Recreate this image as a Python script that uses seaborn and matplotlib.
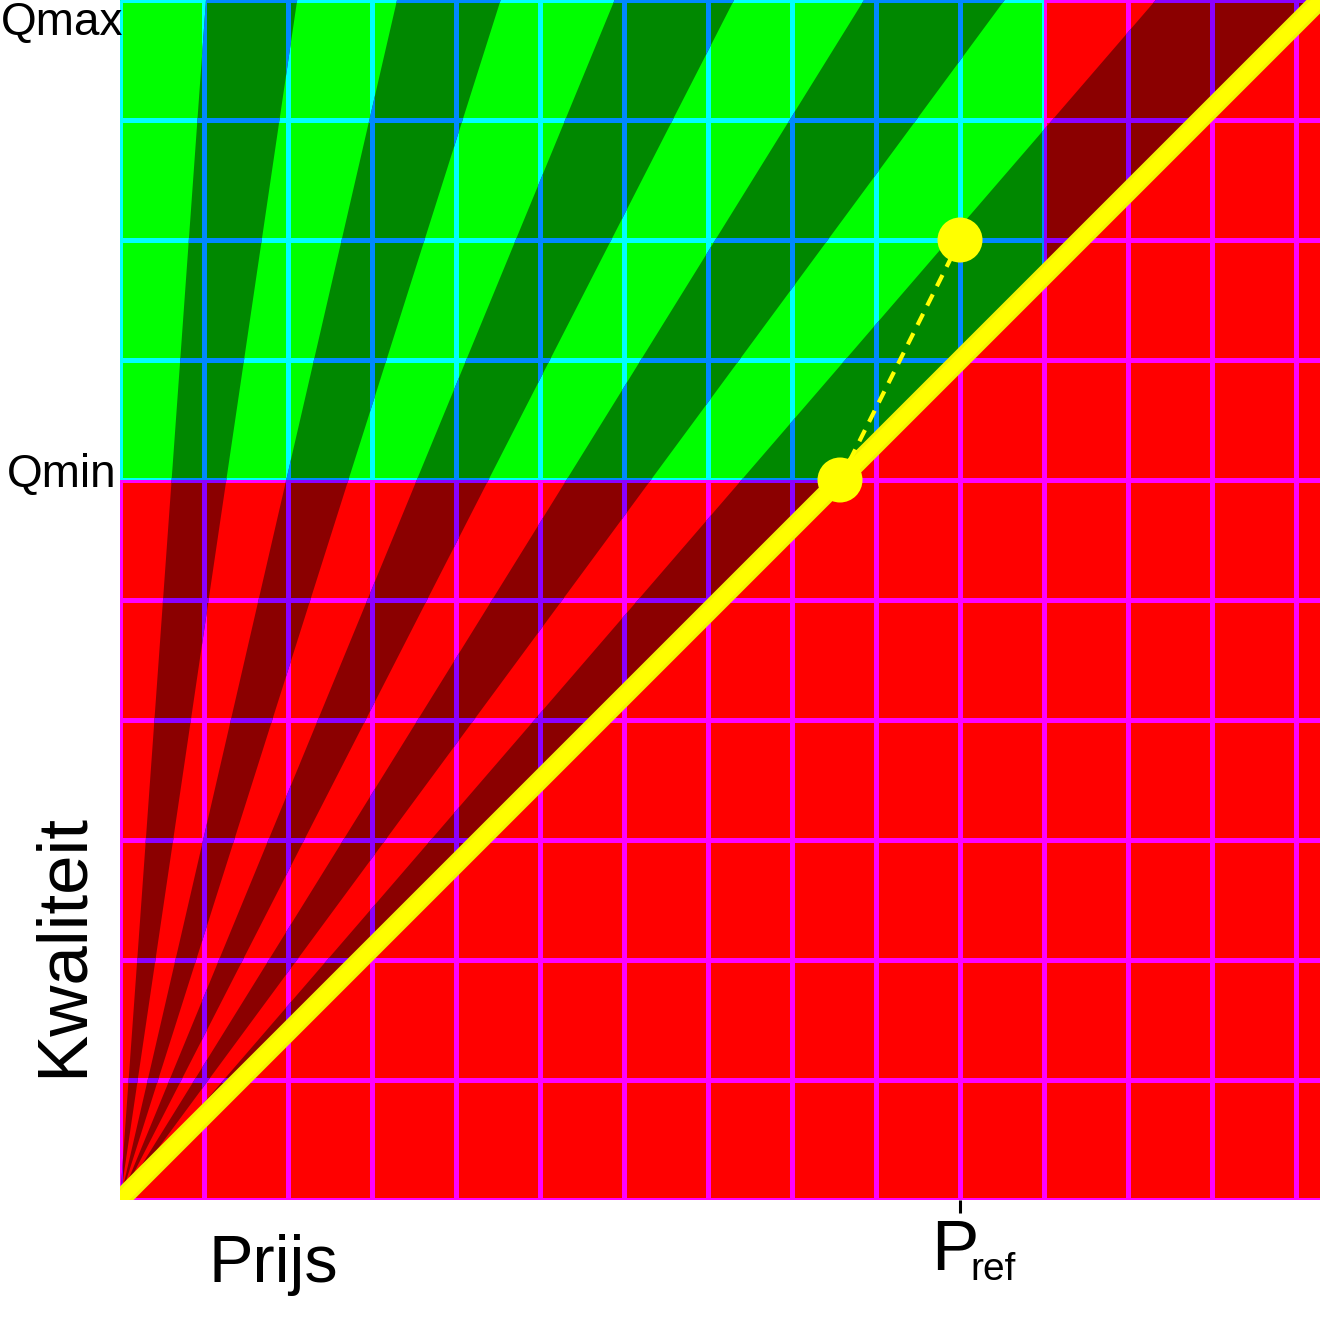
import numpy as np
import matplotlib
matplotlib.use("Agg")
import matplotlib.pyplot as plt
from matplotlib.patches import Polygon, PathPatch
from matplotlib.path import Path
from matplotlib.transforms import Bbox
import seaborn as sns

# fan of bands from the origin, edges in degrees from the price axis
# (dark band between edge 0-1, 2-3, 4-5, ...)
band_edges = [45.0, 49.2, 53.6, 58.2, 62.9, 67.6, 72.4, 77.0, 81.6, 85.9, 90.0]
q_min, q_max = 6.0, 10.0
p_ref = 7.0
p_green_max = 7.7
diag_x = [0, 10]
diag_y = [0, 10]
move_x = [6, 7]
move_y = [6, 8]
grid_x = np.arange(0, 10, 0.7)
grid_y = np.arange(0, 11, 1)

sns.set_style("white")
plt.rcParams["font.family"] = ["Liberation Sans", "DejaVu Sans"]
plt.rcParams["text.color"] = "black"

fig = plt.figure(figsize=(13.2, 13.2), dpi=100)
ax = fig.add_axes([120 / 1320, 120 / 1320, 1200 / 1320, 1200 / 1320])
ax.set_xlim(0, 10)
ax.set_ylim(0, 10)
ax.set_facecolor("#FF0000")
for s in ax.spines.values():
    s.set_visible(False)


def grid(color, z, clip=None):
    lines = [ax.vlines(grid_x, 0, 10, colors=color, lw=3.6, zorder=z),
             ax.hlines(grid_y, 0, 10, colors=color, lw=3.6, zorder=z)]
    if clip is not None:
        for lc in lines:
            lc.set_clip_path(clip)


def wedge(a1, a2, r=30):
    t1, t2 = np.radians(a1), np.radians(a2)
    return Path([(0, 0), (r * np.cos(t1), r * np.sin(t1)),
                 (r * np.cos(t2), r * np.sin(t2)), (0, 0)], closed=True)


dark_bands = list(zip(band_edges[0::2], band_edges[1::2]))

# red part
grid("#FF00FF", 1)
for a1, a2 in dark_bands:
    p = PathPatch(wedge(a1, a2), fc="#8B0000", ec="none", zorder=2)
    ax.add_patch(p)
    grid("#8B00FF", 3, p)

# green (acceptable) part
green = Polygon([(0, q_min), (0, q_max), (p_green_max, q_max),
                 (p_green_max, p_green_max), (q_min, q_min)],
                closed=True, fc="#00FF00", ec="none", zorder=4)
ax.add_patch(green)
grid("#00FFFF", 5, green)
box = Bbox([[0, q_min], [p_green_max, q_max]])
for a1, a2 in dark_bands:
    p = PathPatch(wedge(a1, a2).clip_to_bbox(box), fc="#008800", ec="none", zorder=6)
    ax.add_patch(p)
    grid("#0088FF", 7, p)

# price = quality line, move and points
sns.lineplot(x=diag_x, y=diag_y, color="#F4F400", lw=13.8, zorder=8, ax=ax)
sns.lineplot(x=diag_x, y=diag_y, color="#FFFF00", lw=9.5, zorder=8, ax=ax)
sns.lineplot(x=move_x, y=move_y, color="#FFFF00", lw=3, linestyle=(0, (3, 2.2)),
             zorder=9, ax=ax)
sns.scatterplot(x=move_x, y=move_y, color="#FFFF00", s=1050, edgecolor="none",
                zorder=10, ax=ax)

ax.set_xticks([p_ref], [""])
ax.set_yticks([])
ax.tick_params(axis="x", bottom=True, length=9.5, width=2.2, color="black",
               direction="out")
ax.set_xlabel("")
ax.set_ylabel("")

xt = ax.get_xaxis_transform()
ax.annotate("P", xy=(p_ref, 0), xycoords=xt, xytext=(-5, -70),
            textcoords="offset pixels", ha="center", va="baseline", fontsize=51)
ax.annotate("ref", xy=(p_ref, 0), xycoords=xt, xytext=(10, -80),
            textcoords="offset pixels", ha="left", va="baseline", fontsize=28)

fig.text(62 / 1320, 1 - 35 / 1320, "Qmax", ha="center", va="baseline", fontsize=33)
fig.text(62 / 1320, 1 - 487 / 1320, "Qmin", ha="center", va="baseline", fontsize=33)
fig.text(273 / 1320, 1 - 1282 / 1320, "Prijs", ha="center", va="baseline", fontsize=48)
fig.text(82 / 1320, 1 - 945 / 1320, "Kwaliteit", rotation=90, rotation_mode="anchor",
         ha="center", va="baseline", fontsize=51)

fig.savefig("out.png", dpi=100)
